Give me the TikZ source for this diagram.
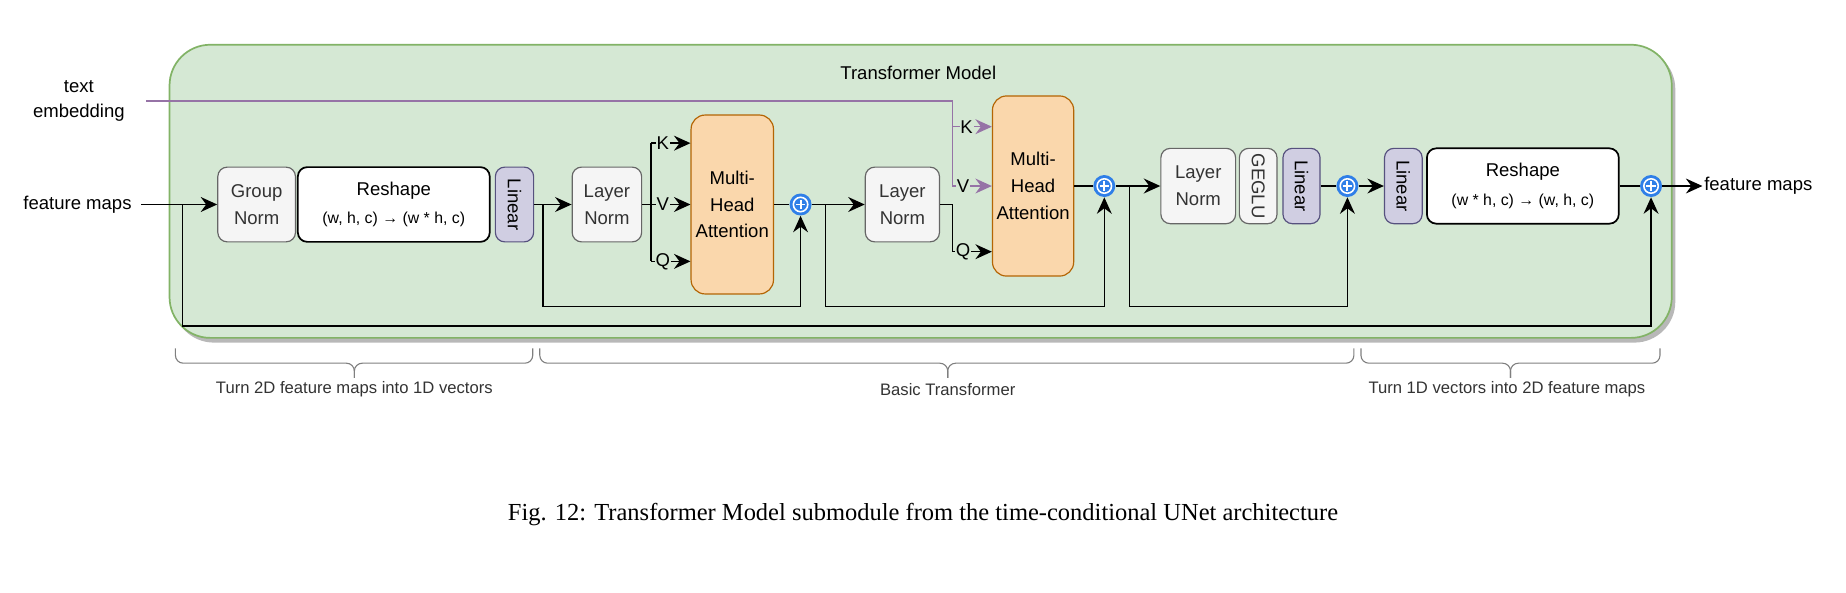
\documentclass[tikz,border=0pt]{standalone}
\usepackage{fontspec}
\setmainfont{Liberation Sans}
\newfontfamily\capfont{Liberation Serif}
\usetikzlibrary{arrows.meta,calc}
\definecolor{gfill}{HTML}{D5E8D4}
\definecolor{gdraw}{HTML}{82B366}
\definecolor{nfill}{HTML}{F5F5F5}
\definecolor{ndraw}{HTML}{666666}
\definecolor{ntext}{HTML}{333333}
\definecolor{lfill}{HTML}{D0CEE2}
\definecolor{ldraw}{HTML}{56517E}
\definecolor{ofill}{HTML}{FAD7AC}
\definecolor{odraw}{HTML}{B46504}
\definecolor{pur}{HTML}{9673A6}
\definecolor{pblue}{HTML}{2F7FE8}
\definecolor{brk}{HTML}{7F7F7F}
\begin{document}
\begin{tikzpicture}[x=0.75pt,y=-0.75pt,
  box/.style 2 args={minimum width=#1*0.75pt, minimum height=#2*0.75pt, inner sep=0pt,
     rounded corners=6pt, line width=0.75pt, align=center, font=\fontsize{11.8}{17}\selectfont},
  norm/.style={fill=nfill, draw=ndraw, text=ntext},
  reshape/.style={fill=white, draw=black, line width=1.1pt},
  lin/.style={fill=lfill, draw=ldraw},
  mha/.style={fill=ofill, draw=odraw, rounded corners=9pt},
  lbl/.style={font=\fontsize{11.8}{15}\selectfont, align=center, inner sep=0pt},
  kv/.style={font=\fontsize{11.8}{13}\selectfont, fill=gfill, inner sep=0.5pt},
  blbl/.style={font=\fontsize{10.6}{13}\selectfont, text=ntext, inner sep=0pt},
  conn/.style={draw=black, line width=1pt},
  arr/.style={conn, -{Stealth[length=10.5pt,width=9.5pt,inset=3.5pt]}},
  parr/.style={draw=pur, line width=1pt, -{Stealth[length=10.5pt,width=9.5pt,inset=3.5pt]}},
  brkt/.style={draw=brk, line width=0.7pt, rounded corners=5pt},
  plus/.style={circle, fill=pblue, minimum size=14pt, inner sep=0pt,
     path picture={
       \draw[white, line width=1pt] (path picture bounding box.center) circle (4.6pt);
       \draw[white, line width=1.2pt] ($(path picture bounding box.center)+(-3pt,0pt)$) -- ++(6pt,0pt);
       \draw[white, line width=1.2pt] ($(path picture bounding box.center)+(0pt,-3pt)$) -- ++(0pt,6pt);
     }}
]
\useasboundingbox (0,0) rectangle (1568,503);
% container
\fill[black, opacity=0.28, rounded corners=26pt] (147,41) rectangle (1423,291);
\node[draw=gdraw, fill=gfill, rounded corners=26pt, line width=1.1pt,
      minimum width=1276*0.75pt, minimum height=249*0.75pt, inner sep=0pt] (cont) at (782,162.5) {};
\node[lbl] (title) at (780,62) {Transformer Model};

% outer labels
\node[lbl, inner xsep=13.5pt] (te) at (67,86) {text\\[1pt]embedding};
\node[lbl, anchor=east, inner xsep=6pt] (fin) at (120,173.7) {feature maps};
\node[lbl, anchor=west, inner xsep=1pt] (fout) at (1446,158) {feature maps};

% blocks, left part
\node[box={66}{63.5}, norm] (gn) at (218,173.7) {Group\\Norm};
\node[box={163}{63.5}, reshape] (rs1) at (334.5,173.7) {Reshape\\[1pt]{\fontsize{10.1}{12}\selectfont (w, h, c) → (w * h, c)}};
\node[box={32.5}{63.5}, lin] (lin1) at (437,173.7) {\rotatebox[origin=c]{-90}{Linear}};
\node[box={59}{63.5}, norm] (ln1) at (515.5,173.7) {Layer\\Norm};
\node[box={70}{152}, mha] (mha1) at (622,173.7) {Multi-\\Head\\Attention};
\node[plus] (p1) at (680,173.7) {};
\node[box={63}{63.5}, norm] (ln2) at (766.5,173.7) {Layer\\Norm};
\node[box={69}{153}, mha] (mha2) at (877.5,158) {Multi-\\Head\\Attention};
\node[plus] (p2) at (938,158) {};
% right part
\node[box={63.5}{64}, norm] (ln3) at (1017.8,158) {Layer\\Norm};
\node[box={32}{64}, norm] (geglu) at (1068.7,158) {\rotatebox[origin=c]{-90}{GEGLU}};
\node[box={31.5}{64}, lin] (lin3) at (1105.5,158) {\rotatebox[origin=c]{-90}{Linear}};
\node[plus] (p3) at (1144.5,158) {};
\node[box={32}{64}, lin] (lin4) at (1192,158) {\rotatebox[origin=c]{-90}{Linear}};
\node[box={163}{64}, reshape] (rs2) at (1293.5,158) {Reshape\\[1pt]{\fontsize{10.1}{12}\selectfont (w * h, c) → (w, h, c)}};
\node[plus] (p4) at (1402.4,158) {};

% connectors
\coordinate (j0) at (155,173.7);
\coordinate (b0) at (155,277);
\draw[arr] (fin.east) -- (gn.west);
\draw[arr] (j0) -- (b0) -| (p4.south);

\coordinate (j1) at (461,173.7);
\coordinate (b1) at (461,260.5);
\draw[arr] (lin1.east) -- (ln1.west);
\draw[arr] (j1) -- (b1) -| (p1.south);

\coordinate (s1) at (553,173.7);
\coordinate (k1) at (553,121.6);
\coordinate (q1) at (553,222);
\draw[conn] (ln1.east) -- (s1);
\draw[conn] (k1) -- (q1);
\draw[arr] (k1) -- (k1 -| mha1.west);
\draw[arr] (s1) -- (mha1.west);
\draw[arr] (q1) -- (q1 -| mha1.west);
\node[kv] (K1) at (563,121.6) {K};
\node[kv] (V1) at (563,173.7) {V};
\node[kv] (Q1) at (563,222) {Q};

\draw[conn] (mha1.east) -- (p1.west);
\draw[arr] (p1.east) -- (ln2.west);
\coordinate (j2) at (701,173.7);
\coordinate (b2) at (701,260.5);
\draw[arr] (j2) -- (b2) -| (p2.south);

\coordinate (t2) at (809,173.7);
\coordinate (q2) at (809,213.8);
\draw[arr] (ln2.east) -- (t2) -- (q2) -- (q2 -| mha2.west);
\coordinate (v2) at (809,158);
\coordinate (k2) at (809,107.6);
\draw[parr] (te.east) -| (v2) -- (v2 -| mha2.west);
\draw[parr] (k2) -- (k2 -| mha2.west);
\node[kv] (K2) at (821,107.6) {K};
\node[kv] (V2) at (818,158) {V};
\node[kv] (Q2) at (818,213.8) {Q};

\draw[conn] (mha2.east) -- (p2.west);
\draw[arr] (p2.east) -- (ln3.west);
\coordinate (j3) at (959.4,158);
\coordinate (b3) at (959.4,260.5);
\draw[arr] (j3) -- (b3) -| (p3.south);
\draw[conn] (lin3.east) -- (p3.west);
\draw[arr] (p3.east) -- (lin4.west);
\draw[conn] (rs2.east) -- (p4.west);
\draw[arr] (p4.east) -- (fout.west);

% braces
\draw[brkt] (149,296) -- (149,308.5) -- (301,308.5) -- (301,321);
\draw[brkt] (452.5,296) -- (452.5,308.5) -- (301,308.5) -- (301,321);
\draw[brkt] (458.5,296) -- (458.5,308.5) -- (805,308.5) -- (805,321);
\draw[brkt] (1150,296) -- (1150,308.5) -- (805,308.5) -- (805,321);
\draw[brkt] (1156,296) -- (1156,308.5) -- (1283,308.5) -- (1283,321);
\draw[brkt] (1410,296) -- (1410,308.5) -- (1283,308.5) -- (1283,321);
\node[blbl] (bl1) at (301,331) {Turn 2D feature maps into 1D vectors};
\node[blbl] (bl2) at (805,331) {Basic Transformer};
\node[blbl] (bl3) at (1280,331) {Turn 1D vectors into 2D feature maps};

% caption
\node[inner sep=0pt, font=\capfont\fontsize{15.6}{19}\selectfont] (cap) at (784,437)
  {Fig. 12: Transformer Model submodule from the time-conditional UNet architecture};
\end{tikzpicture}
\end{document}
